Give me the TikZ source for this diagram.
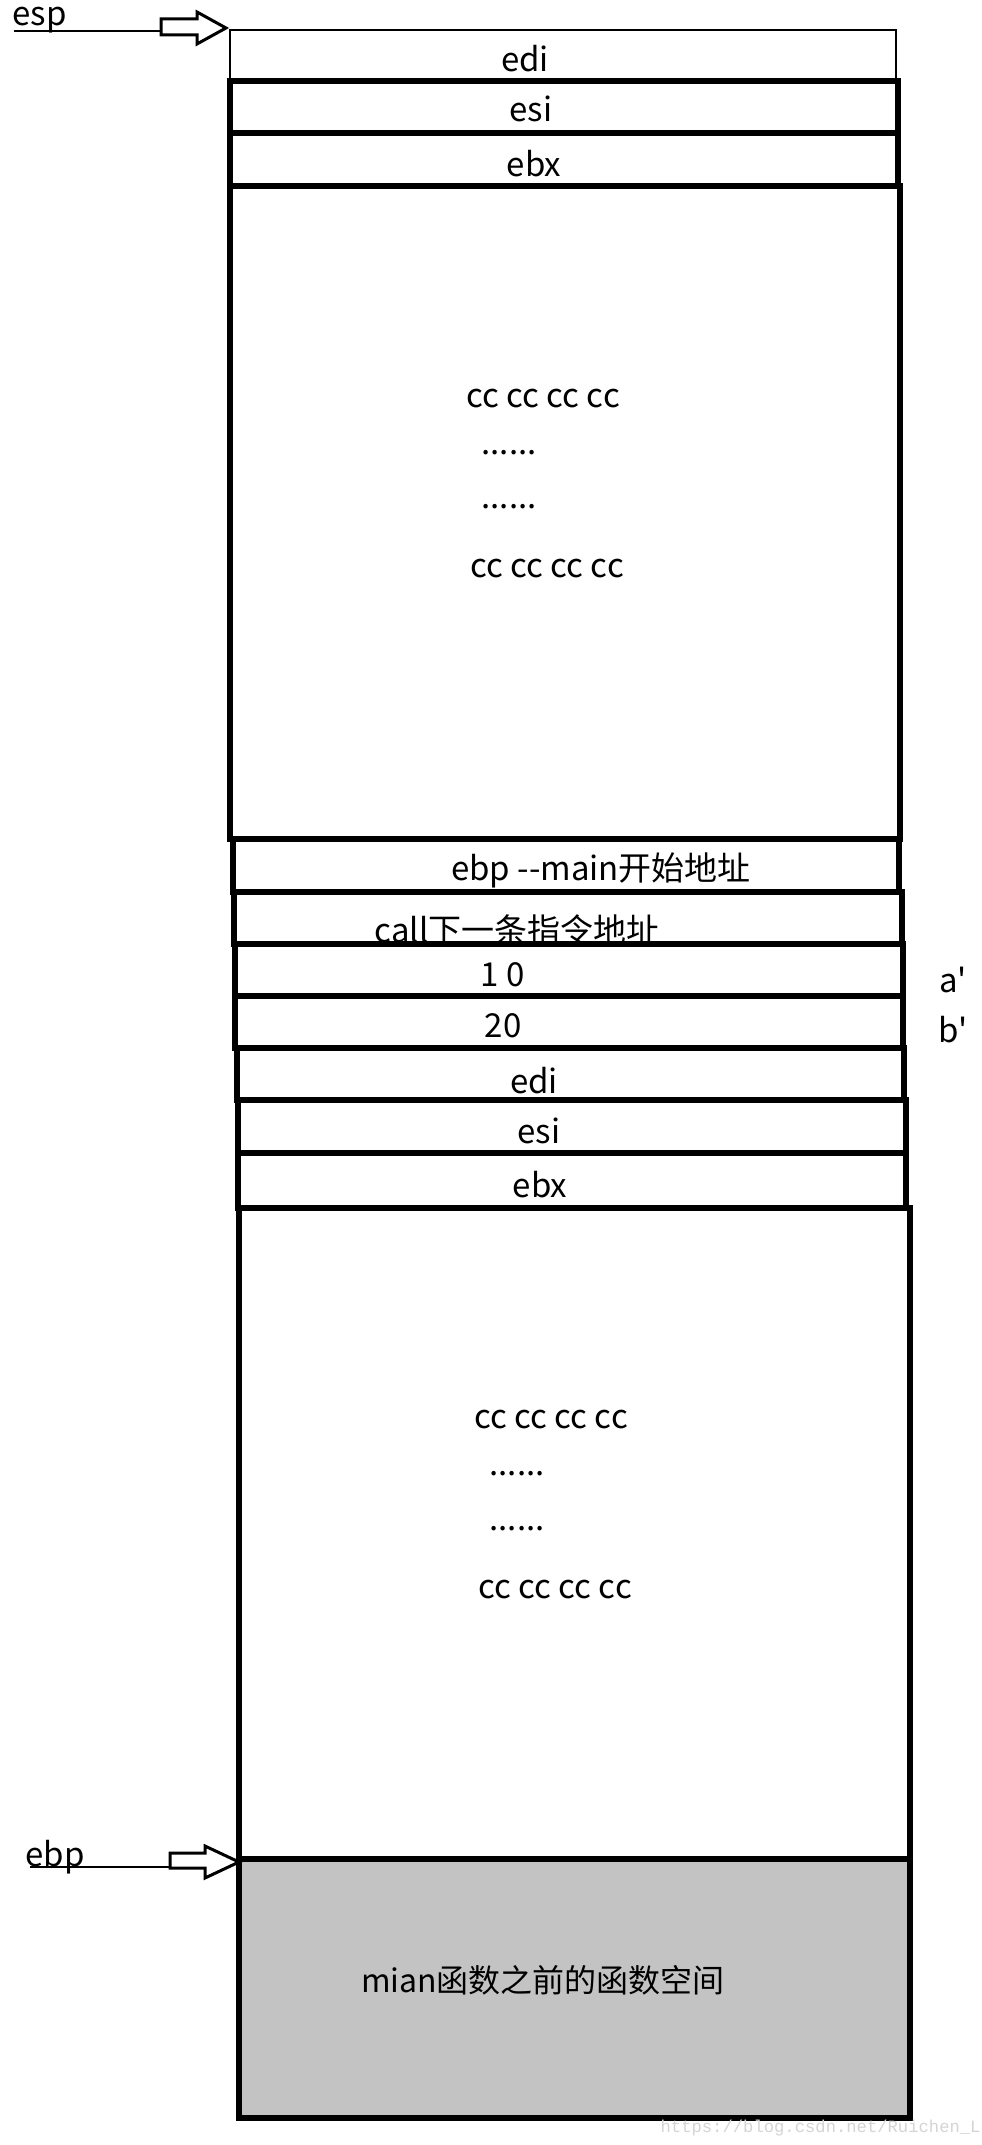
\documentclass[tikz,border=0pt]{standalone}
\usepackage{fontspec}
\setmainfont{Noto Sans CJK SC}
\newfontfamily\wmfont{Liberation Mono}
\begin{document}
\begin{tikzpicture}[x=0.5pt,y=-0.5pt,
  cellline/.style={draw=black,line width=2.6pt},
  graycell/.style={draw=black,line width=2.8pt,fill=graybg},
  txt/.style={inner sep=0pt,font=\fontsize{16.5pt}{20pt}\selectfont},
  ptr/.style={draw=black,line width=1.5pt,fill=white,line join=miter},
  ptrline/.style={draw=black,line width=1.3pt}]
\definecolor{graybg}{HTML}{C3C3C3}
\definecolor{wmgray}{HTML}{D4D4D4}
\useasboundingbox (0,0) rectangle (981,2145);
% stack cells
\draw[cellline,line width=1.4pt] (230,30) rectangle (896,81);
\draw[cellline] (230,81) rectangle (898,133);
\draw[cellline] (230,133) rectangle (898,186);
\draw[cellline] (230,186) rectangle (900,839);
\draw[cellline] (233,839) rectangle (899,892);
\draw[cellline] (234,892) rectangle (902,944);
\draw[cellline] (235,944) rectangle (903,996);
\draw[cellline] (235,996) rectangle (903,1048);
\draw[cellline] (237,1048) rectangle (904,1100);
\draw[cellline] (238,1100) rectangle (906,1153);
\draw[cellline] (238,1153) rectangle (906,1208);
\draw[cellline] (239,1208) rectangle (910,1859);
\draw[graycell] (239,1859) rectangle (910,2118);
% texts
\node[txt] (edi1) at (525,59) {edi};
\node[txt] (esi1) at (531,109) {esi};
\node[txt] (ebx1) at (534,164) {ebx};
\node[txt] (cca1) at (543,399) {cc cc cc cc};
\node[txt] (dota1) at (509,453) {......};
\node[txt] (dotb1) at (509,507) {......};
\node[txt] (ccb1) at (547,569) {cc cc cc cc};
\node[txt] (ebpmain) at (601,870) {ebp -{}-main开始地址};
\node[txt] (callnext) at (517,930) {call下一条指令地址};
\node[txt] (v10) at (503,975) {1 0};
\node[txt] (aprime) at (953,980) {a\textquotesingle};
\node[txt] (v20) at (503,1026) {20};
\node[txt] (bprime) at (953,1030) {b\textquotesingle};
\node[txt] (edi2) at (534,1081) {edi};
\node[txt] (esi2) at (539,1131) {esi};
\node[txt] (ebx2) at (540,1185) {ebx};
\node[txt] (cca2) at (551,1420) {cc cc cc cc};
\node[txt] (dota2) at (517,1474) {......};
\node[txt] (dotb2) at (517,1529) {......};
\node[txt] (ccb2) at (555,1590) {cc cc cc cc};
\node[txt,font=\fontsize{16pt}{20pt}\selectfont] (prev) at (543,1980) {mian函数之前的函数空间};
% esp pointer
\node[txt,anchor=base west] (esp) at (12,26) {esp};
\coordinate (espstart) at (14,31);
\coordinate (espend) at (161,31);
\draw[ptrline] (espstart) -- (espend);
\draw[ptr] (161,19) -- (197,19) -- (197,12) -- (226,28) -- (197,44) -- (197,35) -- (161,35) -- cycle;
% ebp pointer
\node[txt,anchor=base west] (ebp) at (25,1866) {ebp};
\coordinate (ebpstart) at (30,1867);
\coordinate (ebpend) at (170,1867);
\draw[ptrline] (ebpstart) -- (ebpend);
\draw[ptr] (170,1853) -- (205,1853) -- (205,1846) -- (239,1862) -- (205,1878) -- (205,1868) -- (170,1868) -- cycle;
% watermark
\node[inner sep=0pt,anchor=east,text=wmgray,font=\wmfont\fontsize{8.6pt}{10pt}\selectfont] (wm) at (981,2128) {https://blog.csdn.net/Ruichen\_L};
\end{tikzpicture}
\end{document}
